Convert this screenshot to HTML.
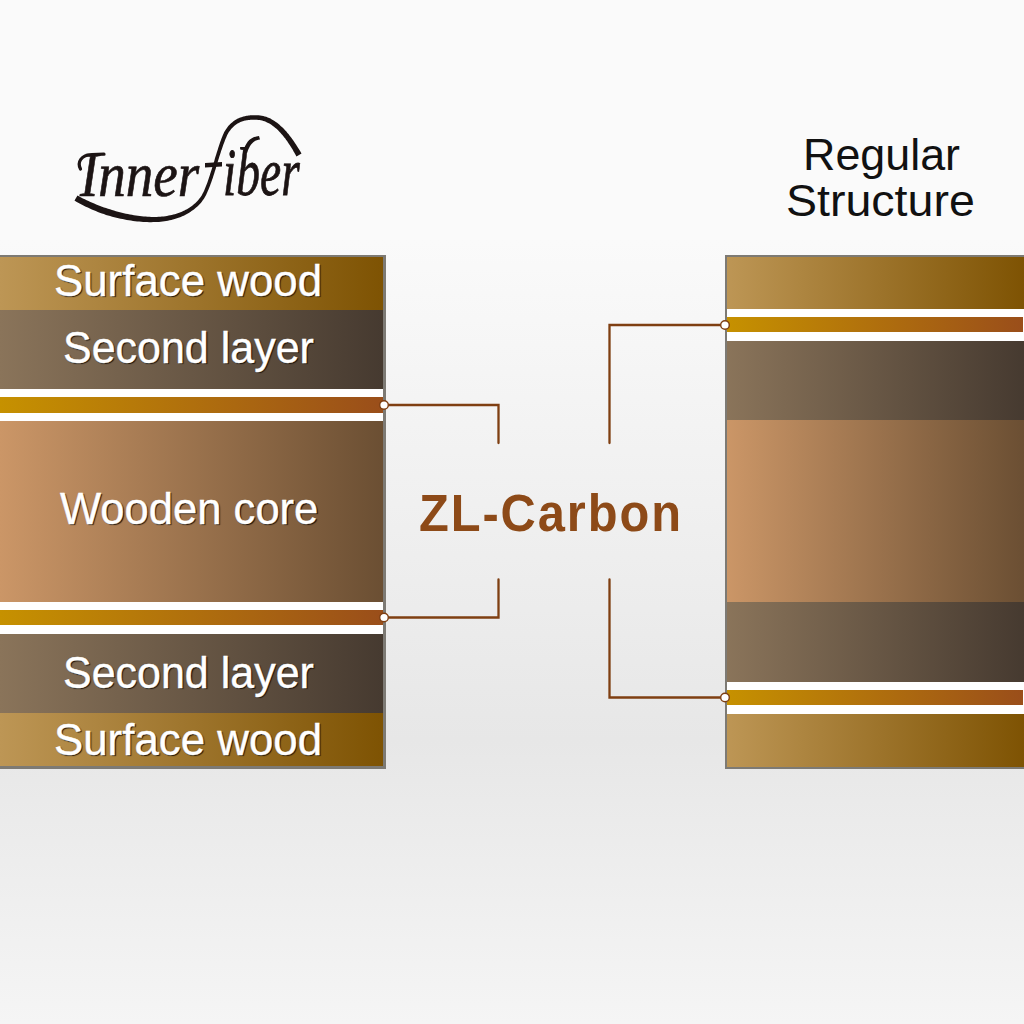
<!DOCTYPE html>
<html><head><meta charset="utf-8">
<style>
html,body{margin:0;padding:0;}
body{width:1024px;height:1024px;position:relative;overflow:hidden;
background:linear-gradient(to bottom,#fafafa 0px,#fafafa 240px,#e7e7e7 740px,#f5f5f5 1024px);
font-family:"Liberation Sans",sans-serif;}
.b{position:absolute;}
.sw{background:linear-gradient(to right,#bd9655,#7e5303);}
.sl{background:linear-gradient(to right,#8a745a,#463a30);}
.co{background:linear-gradient(to right,#cb9667,#6b4f33);}
.ca{background:linear-gradient(to right,#c69100,#9a4e1a);}
.wh{background:#fff;}
.bd{background:#7d7a74;}
.t{position:absolute;color:#fff;white-space:nowrap;line-height:1;
text-shadow:1.3px 1.3px 1px rgba(20,12,4,.9);transform-origin:0 0;-webkit-text-stroke:0.4px #fff;}
</style></head><body>
<svg class="b" style="left:0;top:0" width="1024" height="260" viewBox="0 0 1024 260"><text transform="translate(80,195.5) scale(0.86,1)" font-family="Liberation Serif" font-style="italic" font-size="64" fill="#1c1414" stroke="#1c1414" stroke-width="0.7">Inner</text><text transform="translate(223,194.5) scale(0.7,1)" font-family="Liberation Serif" font-style="italic" font-size="68" fill="#1c1414" stroke="#1c1414" stroke-width="0.8">iber</text><path d="M205,163 L222,162 L222,166.5 L205,167.5Z M243,152 C246,142 250,137 259,136 L260,139.5 C254,140 250,144 247,153Z" fill="#1c1414"/><path d="M80.5,169 C77,162 81,155 92,154.5 L104,154.2" fill="none" stroke="#1c1414" stroke-width="3.2" stroke-linecap="round"/><path d="M74.5,200.6 L76.3,201.7 L78.2,202.7 L80.1,203.7 L82.0,204.7 L83.9,205.7 L85.8,206.7 L87.8,207.6 L89.8,208.5 L91.8,209.4 L93.8,210.3 L95.8,211.1 L97.8,211.9 L99.8,212.7 L101.9,213.4 L103.9,214.1 L106.0,214.9 L108.0,215.5 L110.1,216.1 L112.2,216.7 L114.3,217.2 L116.4,217.7 L118.5,218.2 L120.6,218.7 L122.7,219.1 L124.7,219.6 L126.8,219.9 L128.9,220.3 L131.0,220.6 L133.0,220.9 L135.1,221.2 L137.2,221.4 L139.2,221.6 L141.2,221.8 L143.2,221.9 L145.2,222.0 L147.2,222.1 L149.2,222.2 L151.2,222.2 L153.1,222.1 L155.1,222.1 L157.0,222.0 L158.9,221.9 L160.7,221.7 L162.6,221.5 L164.4,221.3 L166.1,221.0 L167.9,220.7 L169.6,220.3 L171.3,220.0 L172.9,219.5 L174.6,219.1 L176.2,218.6 L177.7,218.1 L179.3,217.5 L180.8,216.9 L182.2,216.3 L183.7,215.7 L185.1,215.0 L186.4,214.3 L187.8,213.5 L189.1,212.8 L190.3,212.0 L191.5,211.1 L192.7,210.3 L193.9,209.4 L195.0,208.5 L196.1,207.6 L197.1,206.7 L198.2,205.7 L199.1,204.7 L200.1,203.7 L201.0,202.7 L201.8,201.7 L202.6,200.6 L203.4,199.5 L204.1,198.4 L204.8,197.3 L205.5,196.1 L206.1,194.9 L206.6,193.8 L207.2,192.4 L207.8,191.1 L208.4,189.7 L209.0,188.3 L209.5,186.9 L210.1,185.4 L210.6,184.0 L211.2,182.5 L211.7,181.0 L212.2,179.4 L212.8,177.9 L213.3,176.3 L213.8,174.7 L214.3,173.2 L214.8,171.6 L215.3,170.0 L215.8,168.4 L216.2,166.7 L216.7,165.1 L217.2,163.5 L217.7,161.9 L218.2,160.3 L218.7,158.7 L219.2,157.1 L219.7,155.5 L220.2,153.9 L220.7,152.4 L221.2,150.8 L221.8,149.3 L222.3,147.8 L222.8,146.3 L223.3,144.8 L223.9,143.3 L224.4,141.9 L224.9,140.5 L225.5,139.1 L226.1,137.7 L226.6,136.4 L227.2,135.1 L227.8,133.9 L228.3,133.0 L228.9,132.1 L229.5,131.2 L230.1,130.4 L230.8,129.6 L231.4,128.8 L232.1,128.1 L232.7,127.4 L233.4,126.8 L234.0,126.2 L234.7,125.6 L235.4,125.0 L236.1,124.5 L236.8,124.1 L237.5,123.6 L238.2,123.2 L239.0,122.8 L239.7,122.4 L240.4,122.1 L241.2,121.8 L241.9,121.5 L242.7,121.3 L243.5,121.0 L244.2,120.8 L245.0,120.6 L245.8,120.4 L246.5,120.3 L247.3,120.2 L248.1,120.0 L248.9,120.0 L249.7,119.9 L250.5,119.8 L251.3,119.8 L252.1,119.7 L252.9,119.7 L253.7,119.7 L254.5,119.7 L255.3,119.7 L256.1,119.8 L256.9,119.8 L258.3,119.9 L259.6,120.0 L260.9,120.3 L262.1,120.6 L263.4,120.9 L264.6,121.3 L265.8,121.8 L267.0,122.4 L268.2,123.0 L269.4,123.6 L270.6,124.3 L271.7,125.1 L272.9,125.9 L274.0,126.8 L275.1,127.7 L276.2,128.6 L277.3,129.6 L278.3,130.6 L279.4,131.7 L280.4,132.8 L281.4,133.9 L282.4,135.1 L283.4,136.2 L284.3,137.4 L285.3,138.6 L286.2,139.9 L287.1,141.1 L288.0,142.4 L288.8,143.7 L289.7,145.0 L290.5,146.3 L291.3,147.5 L292.1,148.8 L292.9,150.1 L293.6,151.4 L294.4,152.7 L295.1,153.9 L295.8,155.2 L296.5,156.4 L301.5,153.6 L300.8,152.3 L300.1,151.1 L299.3,149.8 L298.5,148.5 L297.7,147.2 L296.9,145.9 L296.0,144.6 L295.1,143.2 L294.3,141.9 L293.3,140.6 L292.4,139.3 L291.5,138.0 L290.5,136.7 L289.5,135.4 L288.5,134.1 L287.4,132.9 L286.4,131.6 L285.3,130.4 L284.2,129.2 L283.1,128.1 L281.9,126.9 L280.7,125.9 L279.5,124.8 L278.3,123.8 L277.1,122.8 L275.8,121.9 L274.5,121.0 L273.2,120.2 L271.8,119.4 L270.5,118.6 L269.1,118.0 L267.7,117.4 L266.2,116.8 L264.7,116.4 L263.3,116.0 L261.7,115.7 L260.2,115.4 L258.6,115.3 L257.1,115.2 L256.2,115.2 L255.4,115.2 L254.5,115.2 L253.7,115.2 L252.8,115.2 L251.9,115.2 L251.0,115.3 L250.1,115.3 L249.3,115.4 L248.4,115.5 L247.5,115.7 L246.6,115.8 L245.7,116.0 L244.8,116.2 L243.9,116.4 L243.1,116.6 L242.2,116.9 L241.3,117.2 L240.4,117.5 L239.6,117.8 L238.7,118.2 L237.8,118.6 L237.0,119.0 L236.2,119.5 L235.3,120.0 L234.5,120.5 L233.7,121.1 L232.9,121.7 L232.1,122.4 L231.3,123.0 L230.5,123.8 L229.8,124.5 L229.0,125.3 L228.3,126.1 L227.6,127.0 L226.9,127.9 L226.2,128.9 L225.5,129.9 L224.9,130.9 L224.2,132.1 L223.6,133.5 L223.0,134.8 L222.4,136.2 L221.9,137.6 L221.3,139.1 L220.8,140.5 L220.2,142.0 L219.7,143.5 L219.2,145.0 L218.7,146.5 L218.2,148.1 L217.7,149.7 L217.2,151.2 L216.7,152.8 L216.2,154.4 L215.7,156.0 L215.2,157.6 L214.7,159.2 L214.3,160.9 L213.8,162.5 L213.3,164.1 L212.8,165.7 L212.3,167.3 L211.8,168.9 L211.3,170.5 L210.8,172.1 L210.3,173.6 L209.8,175.2 L209.3,176.7 L208.8,178.3 L208.3,179.8 L207.8,181.3 L207.3,182.7 L206.7,184.2 L206.2,185.6 L205.6,187.0 L205.1,188.3 L204.5,189.7 L204.0,191.0 L203.4,192.2 L202.8,193.3 L202.3,194.3 L201.7,195.4 L201.0,196.4 L200.3,197.4 L199.6,198.3 L198.9,199.3 L198.1,200.2 L197.2,201.2 L196.4,202.1 L195.5,202.9 L194.5,203.8 L193.6,204.6 L192.5,205.5 L191.5,206.3 L190.4,207.0 L189.3,207.8 L188.1,208.5 L187.0,209.2 L185.7,209.8 L184.5,210.5 L183.2,211.1 L181.9,211.7 L180.5,212.2 L179.2,212.8 L177.7,213.3 L176.3,213.7 L174.8,214.2 L173.3,214.6 L171.8,215.0 L170.2,215.3 L168.7,215.6 L167.0,215.9 L165.4,216.2 L163.7,216.4 L162.0,216.6 L160.3,216.7 L158.5,216.8 L156.8,216.9 L154.9,216.9 L153.1,216.9 L151.2,216.9 L149.4,216.8 L147.5,216.7 L145.6,216.6 L143.7,216.4 L141.7,216.2 L139.8,216.0 L137.8,215.8 L135.9,215.5 L133.9,215.2 L131.9,214.8 L129.9,214.5 L127.9,214.1 L125.9,213.7 L123.9,213.2 L121.9,212.7 L119.9,212.2 L117.9,211.7 L115.9,211.2 L113.9,210.6 L112.0,210.0 L110.0,209.3 L108.0,208.7 L106.0,208.0 L104.0,207.4 L102.0,206.7 L100.1,205.9 L98.1,205.2 L96.2,204.4 L94.2,203.6 L92.3,202.8 L90.4,202.0 L88.5,201.1 L86.6,200.2 L84.8,199.3 L82.9,198.4 L81.1,197.4 L79.3,196.4 L77.5,195.4Z" fill="#1c1414"/></svg>
<div class="t" style="left:803.01px;top:132.95px;font-size:44.00px;transform:scaleX(1.0190);color:#111;text-shadow:none;-webkit-text-stroke:0;">Regular</div>
<div class="t" style="left:786.05px;top:178.85px;font-size:44.00px;transform:scaleX(1.0575);color:#111;text-shadow:none;-webkit-text-stroke:0;">Structure</div>

<!-- left stack -->
<div class="b bd" style="left:0;top:255px;width:385.5px;height:513.5px;"></div>
<div class="b sw" style="left:0;top:257px;width:383px;height:52.5px;"></div>
<div class="b sl" style="left:0;top:309.5px;width:383px;height:79px;"></div>
<div class="b wh" style="left:0;top:388.5px;width:383px;height:8.5px;"></div>
<div class="b ca" style="left:0;top:397px;width:383px;height:15.5px;"></div>
<div class="b wh" style="left:0;top:412.5px;width:383px;height:8.5px;"></div>
<div class="b co" style="left:0;top:421px;width:383px;height:181px;"></div>
<div class="b wh" style="left:0;top:602px;width:383px;height:8px;"></div>
<div class="b ca" style="left:0;top:610px;width:383px;height:15px;"></div>
<div class="b wh" style="left:0;top:625px;width:383px;height:9px;"></div>
<div class="b sl" style="left:0;top:634px;width:383px;height:79px;"></div>
<div class="b sw" style="left:0;top:713px;width:383px;height:53px;"></div>
<div class="t" style="left:54.38px;top:260.38px;font-size:43.50px;transform:scaleX(1.0077);">Surface wood</div>
<div class="t" style="left:63.02px;top:327.38px;font-size:43.50px;transform:scaleX(0.9881);">Second layer</div>
<div class="t" style="left:60.20px;top:487.93px;font-size:43.50px;transform:scaleX(1.0016);">Wooden core</div>
<div class="t" style="left:63.02px;top:652.38px;font-size:43.50px;transform:scaleX(0.9881);">Second layer</div>
<div class="t" style="left:54.38px;top:718.98px;font-size:43.50px;transform:scaleX(1.0077);">Surface wood</div>

<!-- right stack -->
<div class="b bd" style="left:724.5px;top:255px;width:300px;height:514px;"></div>
<div class="b sw" style="left:727px;top:257px;width:297px;height:52px;"></div>
<div class="b wh" style="left:727px;top:309px;width:297px;height:32px;"></div>
<div class="b ca" style="left:727px;top:317px;width:296px;height:15px;"></div>
<div class="b sl" style="left:727px;top:341px;width:297px;height:79px;"></div>
<div class="b co" style="left:727px;top:420px;width:297px;height:182px;"></div>
<div class="b sl" style="left:727px;top:602px;width:297px;height:80px;"></div>
<div class="b wh" style="left:727px;top:682px;width:297px;height:31.5px;"></div>
<div class="b ca" style="left:727px;top:689.5px;width:296px;height:15.5px;"></div>
<div class="b sw" style="left:727px;top:713.5px;width:297px;height:53.5px;"></div>
<div class="t" style="left:419.47px;top:487.73px;font-size:51.00px;transform:scaleX(0.9570);color:#8d4a18;font-weight:bold;text-shadow:none;-webkit-text-stroke:0;letter-spacing:2px;">ZL-Carbon</div>
<svg class="b" style="left:0;top:0" width="1024" height="1024" viewBox="0 0 1024 1024"><g fill="none" stroke="#7f3f12" stroke-width="2.3" stroke-linecap="round"><path d="M384,405 H498.5 V443"/><path d="M384,617.5 H498.5 V579.5"/><path d="M725,325 H609.5 V443"/><path d="M725,697.5 H609.5 V579.5"/></g><g fill="#fff" stroke="#7f3f12" stroke-width="1.4"><circle cx="384" cy="405" r="4.3"/><circle cx="384" cy="617.5" r="4.3"/><circle cx="725" cy="325" r="4.3"/><circle cx="725" cy="697.5" r="4.3"/></g></svg>
</body></html>
